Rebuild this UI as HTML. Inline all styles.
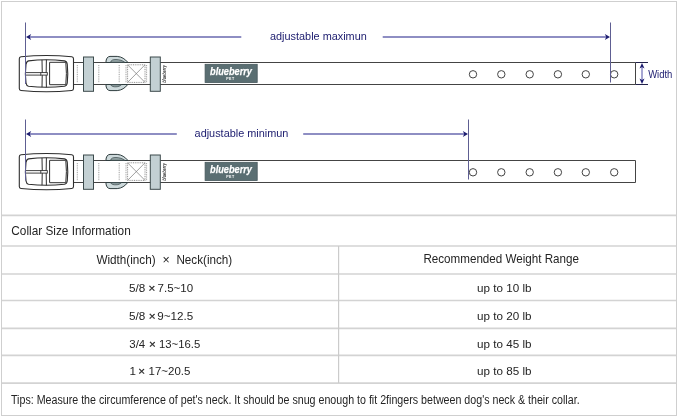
<!DOCTYPE html>
<html><head><meta charset="utf-8"><title>Collar Size Information</title>
<style>html,body{margin:0;padding:0;background:#fff}svg{display:block;will-change:transform}</style></head>
<body>
<svg width="679" height="418" viewBox="0 0 679 418" font-family="'Liberation Sans',sans-serif">
<rect width="679" height="418" fill="#fff"/>
<rect x="1.5" y="1.5" width="675" height="414" fill="none" stroke="#cfcfcf" stroke-width="1"/>
<g transform="translate(0,0)">
<path d="M73 62.5 H635.5 V84.5 H73" fill="#fff" stroke="#444" stroke-width="1"/>
<path d="M105.9 62.5 C106 58.8 107.3 56.6 110 56.4 H117.2 C121.6 56.7 125 59 128 62.5 Z" fill="#cdd9db" stroke="#2f3d3f" stroke-width="1" stroke-linejoin="round"/>
<path d="M110.6 62.3 C111 60.2 113 59.4 116 59.5 C119.6 59.6 122.6 60.6 124.8 62.3 Z" fill="#93a3a5" stroke="#3a484a" stroke-width="0.7"/>
<path d="M105.9 84.5 C106 88.2 107.3 90.4 110 90.6 H117.2 C121.6 90.3 125 88 127.8 84.5 Z" fill="#cdd9db" stroke="#2f3d3f" stroke-width="1" stroke-linejoin="round"/>
<path d="M110.6 84.7 C111.5 86.4 113.5 86.9 116 86.8 C118.6 86.7 120.2 86 121.4 84.7 Z" fill="#93a3a5" stroke="#3a484a" stroke-width="0.7"/>
<line x1="77.3" y1="65" x2="77.3" y2="82.3" stroke="#888" stroke-width="0.8" stroke-dasharray="1 0.8"/>
<line x1="98.8" y1="65" x2="98.8" y2="82.3" stroke="#888" stroke-width="0.8" stroke-dasharray="1 0.8"/>
<line x1="119.2" y1="65" x2="119.2" y2="82.3" stroke="#888" stroke-width="0.8" stroke-dasharray="1 0.8"/>
<line x1="126.0" y1="65" x2="126.0" y2="82.3" stroke="#888" stroke-width="0.8" stroke-dasharray="1 0.8"/>
<line x1="146.6" y1="65" x2="146.6" y2="82.3" stroke="#888" stroke-width="0.8" stroke-dasharray="1 0.8"/>
<rect x="127.6" y="64.8" width="17.4" height="17.6" fill="none" stroke="#777" stroke-width="0.8" stroke-dasharray="1 0.8"/>
<path d="M127.6 64.8 L145 82.4 M145 64.8 L127.6 82.4" stroke="#777" stroke-width="0.7" fill="none"/>
<rect x="83.5" y="57" width="10" height="34.3" fill="#c3d0d3" stroke="#3c4a4c" stroke-width="1"/>
<rect x="150.3" y="57" width="10" height="34.3" fill="#c3d0d3" stroke="#3c4a4c" stroke-width="1"/>
<text x="0" y="0" transform="translate(166.4,82.8) rotate(-90)" font-size="5.6" font-weight="bold" font-style="italic" fill="#3c3c3c" textLength="17.8" lengthAdjust="spacingAndGlyphs">blueberry</text>
<path d="M21 56.7 Q46.3 54.3 71.8 56.7 Q73.5 56.9 73.5 58.8 V88.4 Q73.5 90.3 71.8 90.5 Q46.3 93.1 21 90.5 Q19.3 90.3 19.3 88.4 V58.8 Q19.3 56.9 21 56.7 Z" fill="#fff" stroke="#2e2e2e" stroke-width="1.1"/>
<path d="M28.5 60.9 Q46 58.5 64.5 60.9 Q67 61.3 67.3 64.5 Q68.2 73.5 67.3 82.8 Q67 85.9 64.5 86.3 Q46 88.3 28.5 86.3 Q26.5 85.8 26 82.8 Q24.8 73.5 26 64.5 Q26.5 61.4 28.5 60.9 Z" fill="#fff" stroke="#2e2e2e" stroke-width="1.1"/>
<path d="M42 59.9 Q42.5 73.5 42 87.2 M46.4 59.8 Q45.9 73.5 46.4 87.3" stroke="#2e2e2e" stroke-width="1" fill="none"/>
<path d="M25.5 72.6 H41 M25.5 75.1 H41" stroke="#2e2e2e" stroke-width="0.9" fill="none"/>
<rect x="40.8" y="72.6" width="6.5" height="2.5" stroke="#2e2e2e" stroke-width="0.9" fill="#fff"/>
<path d="M49.6 62.3 H65.8 Q67 73.5 65.8 84.7 H49.6 Z" fill="#fff" stroke="#2e2e2e" stroke-width="1"/>
<rect x="205.1" y="64.3" width="52.1" height="18.2" fill="#5a6e72" stroke="#46585c" stroke-width="0.8"/>
<text x="210" y="75.4" font-family="'Liberation Sans',sans-serif" font-style="italic" font-weight="bold" font-size="11.6" fill="#fff" stroke="#fff" stroke-width="0.25" textLength="42" lengthAdjust="spacingAndGlyphs">blueberry</text>
<text x="230.4" y="80.4" text-anchor="middle" font-family="'Liberation Sans',sans-serif" font-weight="bold" font-size="3.6" fill="#fff" letter-spacing="0.4">PET</text>
<circle cx="473" cy="74.3" r="3.7" fill="#fff" stroke="#444" stroke-width="1"/>
<circle cx="501.3" cy="74.3" r="3.7" fill="#fff" stroke="#444" stroke-width="1"/>
<circle cx="529.7" cy="74.3" r="3.7" fill="#fff" stroke="#444" stroke-width="1"/>
<circle cx="557.9" cy="74.3" r="3.7" fill="#fff" stroke="#444" stroke-width="1"/>
<circle cx="585.8" cy="74.3" r="3.7" fill="#fff" stroke="#444" stroke-width="1"/>
<circle cx="614.2" cy="74.3" r="3.7" fill="#fff" stroke="#444" stroke-width="1"/>
</g>
<g transform="translate(0,98)">
<path d="M73 62.5 H635.5 V84.5 H73" fill="#fff" stroke="#444" stroke-width="1"/>
<path d="M105.9 62.5 C106 58.8 107.3 56.6 110 56.4 H117.2 C121.6 56.7 125 59 128 62.5 Z" fill="#cdd9db" stroke="#2f3d3f" stroke-width="1" stroke-linejoin="round"/>
<path d="M110.6 62.3 C111 60.2 113 59.4 116 59.5 C119.6 59.6 122.6 60.6 124.8 62.3 Z" fill="#93a3a5" stroke="#3a484a" stroke-width="0.7"/>
<path d="M105.9 84.5 C106 88.2 107.3 90.4 110 90.6 H117.2 C121.6 90.3 125 88 127.8 84.5 Z" fill="#cdd9db" stroke="#2f3d3f" stroke-width="1" stroke-linejoin="round"/>
<path d="M110.6 84.7 C111.5 86.4 113.5 86.9 116 86.8 C118.6 86.7 120.2 86 121.4 84.7 Z" fill="#93a3a5" stroke="#3a484a" stroke-width="0.7"/>
<line x1="77.3" y1="65" x2="77.3" y2="82.3" stroke="#888" stroke-width="0.8" stroke-dasharray="1 0.8"/>
<line x1="98.8" y1="65" x2="98.8" y2="82.3" stroke="#888" stroke-width="0.8" stroke-dasharray="1 0.8"/>
<line x1="119.2" y1="65" x2="119.2" y2="82.3" stroke="#888" stroke-width="0.8" stroke-dasharray="1 0.8"/>
<line x1="126.0" y1="65" x2="126.0" y2="82.3" stroke="#888" stroke-width="0.8" stroke-dasharray="1 0.8"/>
<line x1="146.6" y1="65" x2="146.6" y2="82.3" stroke="#888" stroke-width="0.8" stroke-dasharray="1 0.8"/>
<rect x="127.6" y="64.8" width="17.4" height="17.6" fill="none" stroke="#777" stroke-width="0.8" stroke-dasharray="1 0.8"/>
<path d="M127.6 64.8 L145 82.4 M145 64.8 L127.6 82.4" stroke="#777" stroke-width="0.7" fill="none"/>
<rect x="83.5" y="57" width="10" height="34.3" fill="#c3d0d3" stroke="#3c4a4c" stroke-width="1"/>
<rect x="150.3" y="57" width="10" height="34.3" fill="#c3d0d3" stroke="#3c4a4c" stroke-width="1"/>
<text x="0" y="0" transform="translate(166.4,82.8) rotate(-90)" font-size="5.6" font-weight="bold" font-style="italic" fill="#3c3c3c" textLength="17.8" lengthAdjust="spacingAndGlyphs">blueberry</text>
<path d="M21 56.7 Q46.3 54.3 71.8 56.7 Q73.5 56.9 73.5 58.8 V88.4 Q73.5 90.3 71.8 90.5 Q46.3 93.1 21 90.5 Q19.3 90.3 19.3 88.4 V58.8 Q19.3 56.9 21 56.7 Z" fill="#fff" stroke="#2e2e2e" stroke-width="1.1"/>
<path d="M28.5 60.9 Q46 58.5 64.5 60.9 Q67 61.3 67.3 64.5 Q68.2 73.5 67.3 82.8 Q67 85.9 64.5 86.3 Q46 88.3 28.5 86.3 Q26.5 85.8 26 82.8 Q24.8 73.5 26 64.5 Q26.5 61.4 28.5 60.9 Z" fill="#fff" stroke="#2e2e2e" stroke-width="1.1"/>
<path d="M42 59.9 Q42.5 73.5 42 87.2 M46.4 59.8 Q45.9 73.5 46.4 87.3" stroke="#2e2e2e" stroke-width="1" fill="none"/>
<path d="M25.5 72.6 H41 M25.5 75.1 H41" stroke="#2e2e2e" stroke-width="0.9" fill="none"/>
<rect x="40.8" y="72.6" width="6.5" height="2.5" stroke="#2e2e2e" stroke-width="0.9" fill="#fff"/>
<path d="M49.6 62.3 H65.8 Q67 73.5 65.8 84.7 H49.6 Z" fill="#fff" stroke="#2e2e2e" stroke-width="1"/>
<rect x="205.1" y="64.3" width="52.1" height="18.2" fill="#5a6e72" stroke="#46585c" stroke-width="0.8"/>
<text x="210" y="75.4" font-family="'Liberation Sans',sans-serif" font-style="italic" font-weight="bold" font-size="11.6" fill="#fff" stroke="#fff" stroke-width="0.25" textLength="42" lengthAdjust="spacingAndGlyphs">blueberry</text>
<text x="230.4" y="80.4" text-anchor="middle" font-family="'Liberation Sans',sans-serif" font-weight="bold" font-size="3.6" fill="#fff" letter-spacing="0.4">PET</text>
<circle cx="473" cy="74.3" r="3.7" fill="#fff" stroke="#444" stroke-width="1"/>
<circle cx="501.3" cy="74.3" r="3.7" fill="#fff" stroke="#444" stroke-width="1"/>
<circle cx="529.7" cy="74.3" r="3.7" fill="#fff" stroke="#444" stroke-width="1"/>
<circle cx="557.9" cy="74.3" r="3.7" fill="#fff" stroke="#444" stroke-width="1"/>
<circle cx="585.8" cy="74.3" r="3.7" fill="#fff" stroke="#444" stroke-width="1"/>
<circle cx="614.2" cy="74.3" r="3.7" fill="#fff" stroke="#444" stroke-width="1"/>
</g>
<line x1="25.5" y1="22.5" x2="25.5" y2="84" stroke="#5e5e92" stroke-width="1"/>
<line x1="610.5" y1="22.5" x2="610.5" y2="82.5" stroke="#5e5e92" stroke-width="1"/>
<path d="M29 37 H241.3 M382.7 37 H607" stroke="#6a6ab0" stroke-width="1.5" fill="none"/>
<path d="M26 37 l5.2 -3.1 l-1.5 3.1 l1.5 3.1 z" fill="#1b1b6e"/>
<path d="M610 37 l-5.2 -3.1 l1.5 3.1 l-1.5 3.1 z" fill="#1b1b6e"/>
<text x="270" y="39.5" font-size="11.4" fill="#1b1b6e" textLength="96.8" lengthAdjust="spacingAndGlyphs">adjustable maximun</text>
<line x1="25.5" y1="119.5" x2="25.5" y2="180.5" stroke="#5e5e92" stroke-width="1"/>
<line x1="468.5" y1="119.5" x2="468.5" y2="179.5" stroke="#5e5e92" stroke-width="1"/>
<path d="M29 134 H176.8 M303.2 134 H465" stroke="#6a6ab0" stroke-width="1.5" fill="none"/>
<path d="M26 134 l5.2 -3.1 l-1.5 3.1 l1.5 3.1 z" fill="#1b1b6e"/>
<path d="M468 134 l-5.2 -3.1 l1.5 3.1 l-1.5 3.1 z" fill="#1b1b6e"/>
<text x="194.6" y="137" font-size="11.4" fill="#1b1b6e" textLength="93.8" lengthAdjust="spacingAndGlyphs">adjustable minimun</text>
<path d="M635.5 62.5 H648 M635.5 84.5 H648" stroke="#22224a" stroke-width="1" fill="none"/>
<path d="M642 65 V82" stroke="#3a3a9c" stroke-width="0.9" fill="none"/>
<path d="M642 63 l-2.5 5.6 l2.5 -1.5 l2.5 1.5 z M642 84 l-2.5 -5.6 l2.5 1.5 l2.5 -1.5 z" fill="#1b1b6e"/>
<text x="648.2" y="78.3" font-size="10" fill="#1b1b6e" textLength="24.2" lengthAdjust="spacingAndGlyphs">Width</text>
<line x1="2" y1="215.4" x2="676" y2="215.4" stroke="#d3d3d3" stroke-width="1.6"/>
<line x1="2" y1="246.0" x2="676" y2="246.0" stroke="#d3d3d3" stroke-width="1.6"/>
<line x1="2" y1="274.0" x2="676" y2="274.0" stroke="#d3d3d3" stroke-width="1.6"/>
<line x1="2" y1="300.5" x2="676" y2="300.5" stroke="#d3d3d3" stroke-width="1.6"/>
<line x1="2" y1="328.4" x2="676" y2="328.4" stroke="#d3d3d3" stroke-width="1.6"/>
<line x1="2" y1="355.4" x2="676" y2="355.4" stroke="#d3d3d3" stroke-width="1.6"/>
<line x1="2" y1="383.1" x2="676" y2="383.1" stroke="#d3d3d3" stroke-width="1.6"/>
<line x1="338.6" y1="246" x2="338.6" y2="383" stroke="#cbcbcb" stroke-width="1.2"/>
<text x="11.3" y="235" font-size="13" fill="#242424" textLength="119.4" lengthAdjust="spacingAndGlyphs">Collar Size Information</text>
<text x="96.4" y="263.5" font-size="12.4" fill="#242424" textLength="59.2" lengthAdjust="spacingAndGlyphs">Width(inch)</text>
<text x="162.6" y="263.5" font-size="12.4" fill="#242424">×</text>
<text x="176.4" y="263.5" font-size="12.4" fill="#242424" textLength="55.8" lengthAdjust="spacingAndGlyphs">Neck(inch)</text>
<text x="423.4" y="263.3" font-size="12.4" fill="#242424" textLength="155.6" lengthAdjust="spacingAndGlyphs">Recommended Weight Range</text>
<text x="129.0" y="291.6" font-size="11.65" fill="#242424" textLength="16.3" lengthAdjust="spacingAndGlyphs">5/8</text>
<text x="148.5" y="291.6" font-size="11.65" fill="#242424" stroke="#242424" stroke-width="0.25">×</text>
<text x="157.6" y="291.6" font-size="11.65" fill="#242424" textLength="35.6" lengthAdjust="spacingAndGlyphs">7.5~10</text>
<text x="477.1" y="291.6" font-size="11.65" fill="#242424" textLength="54.5" lengthAdjust="spacingAndGlyphs">up to 10 lb</text>
<text x="129.0" y="320.0" font-size="11.65" fill="#242424" textLength="16.3" lengthAdjust="spacingAndGlyphs">5/8</text>
<text x="148.7" y="320.0" font-size="11.65" fill="#242424" stroke="#242424" stroke-width="0.25">×</text>
<text x="157.3" y="320.0" font-size="11.65" fill="#242424" textLength="35.9" lengthAdjust="spacingAndGlyphs">9~12.5</text>
<text x="477.1" y="320.0" font-size="11.65" fill="#242424" textLength="54.5" lengthAdjust="spacingAndGlyphs">up to 20 lb</text>
<text x="129.3" y="348.0" font-size="11.65" fill="#242424" textLength="15.9" lengthAdjust="spacingAndGlyphs">3/4</text>
<text x="148.9" y="348.0" font-size="11.65" fill="#242424" stroke="#242424" stroke-width="0.25">×</text>
<text x="159.0" y="348.0" font-size="11.65" fill="#242424" textLength="41.2" lengthAdjust="spacingAndGlyphs">13~16.5</text>
<text x="477.1" y="348.0" font-size="11.65" fill="#242424" textLength="54.5" lengthAdjust="spacingAndGlyphs">up to 45 lb</text>
<text x="129.5" y="374.6" font-size="11.65" fill="#242424">1</text>
<text x="138.2" y="374.6" font-size="11.65" fill="#242424" stroke="#242424" stroke-width="0.25">×</text>
<text x="148.6" y="374.6" font-size="11.65" fill="#242424" textLength="41.8" lengthAdjust="spacingAndGlyphs">17~20.5</text>
<text x="477.1" y="374.6" font-size="11.65" fill="#242424" textLength="54.5" lengthAdjust="spacingAndGlyphs">up to 85 lb</text>
<text x="11" y="404.2" font-size="12" fill="#242424" textLength="568.6" lengthAdjust="spacingAndGlyphs">Tips: Measure the circumference of pet's neck. It should be snug enough to fit 2fingers between dog's neck &amp; their collar.</text>
</svg>
</body></html>
